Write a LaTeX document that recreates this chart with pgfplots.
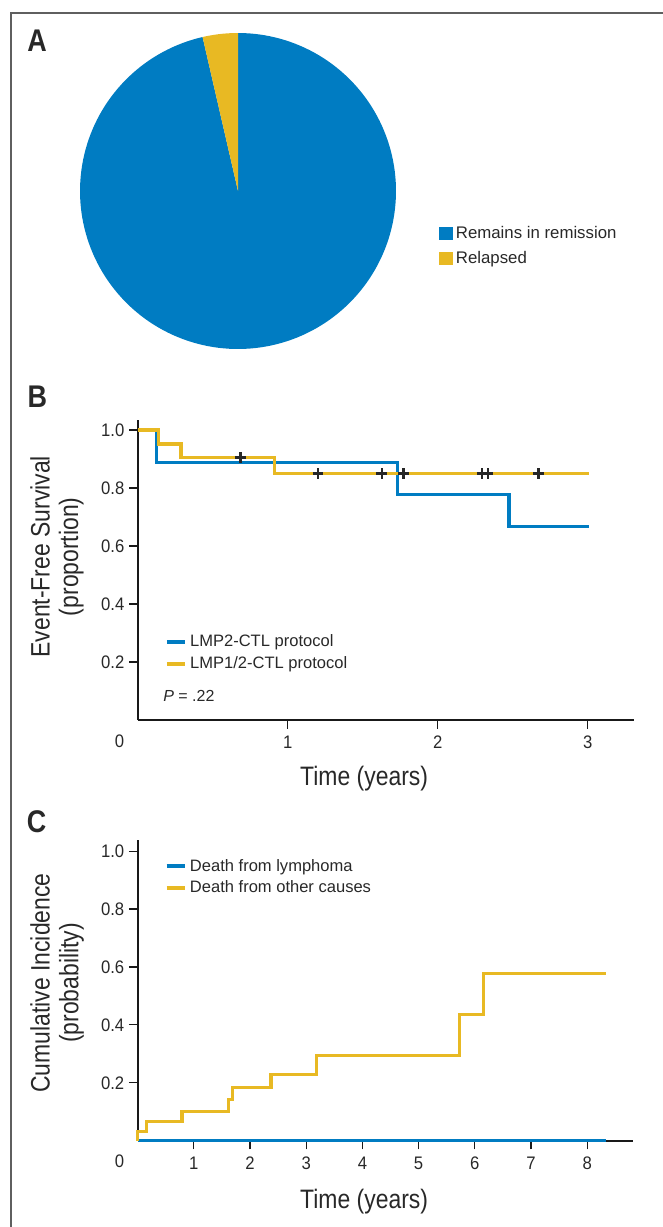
\documentclass[border=0pt]{standalone}
\usepackage{fontspec}
\setmainfont{Liberation Sans}
\newfontfamily\condfont[FakeStretch=0.86]{Liberation Sans}
\newfontfamily\tickfam[FakeStretch=0.92]{Liberation Sans}
\usepackage{pgfplots}
\pgfplotsset{compat=1.18}
\definecolor{ablue}{RGB}{0,124,194}
\definecolor{ayellow}{RGB}{232,185,35}
\definecolor{framegray}{RGB}{95,95,95}
\definecolor{txt}{RGB}{40,40,40}

\pgfplotsset{
  kmstyle/.style={
    scale only axis,
    axis x line=bottom, axis y line=left,
    axis line style={-, line width=1.4pt, black!90},
    tick align=outside,
    major tick length=6.5pt,
    tick style={line width=0.9pt, black!90},
    ticklabel style={font=\tickfam\fontsize{13.6}{15}\selectfont, text=txt},
    xticklabel style={yshift=-2pt},
    /pgf/number format/assume math mode=true,
    clip=false,
    ymin=0,
    ytick={0.2,0.4,0.6,0.8,1.0},
    yticklabel style={/pgf/number format/.cd, fixed, fixed zerofill, precision=1},
    label style={font=\condfont\fontsize{20}{21.5}\selectfont, text=txt},
    legend cell align=left,
    legend image code/.code={\draw[##1, line width=3pt] (0pt,0pt) -- (13.5pt,0pt);},
  }
}

\begin{document}
\begin{tikzpicture}
\useasboundingbox (0,0) rectangle (497.25pt,-920.25pt);
\draw[framegray, line width=1.5pt] (7.95pt,-921pt) -- (7.95pt,-9.98pt) -- (498pt,-9.98pt);

% panel letters
\node[font=\condfont\bfseries\fontsize{23.5}{24}\selectfont, text=txt] at (27.75pt,-30.75pt) {A};
\node[font=\condfont\bfseries\fontsize{23.5}{24}\selectfont, text=txt] at (28.1pt,-297.5pt) {B};
\node[font=\condfont\bfseries\fontsize{23.5}{24}\selectfont, text=txt] at (27.5pt,-616.3pt) {C};

% ---------------- Panel A: pie ----------------
\pgfmathsetmacro{\pctRelapsed}{3.6}
\pgfmathsetmacro{\pieSplit}{90+\pctRelapsed*3.6}
\begin{axis}[
  at={(178.5pt,-143.25pt)}, anchor=center,
  scale only axis, width=237pt, height=237pt,
  hide axis, xmin=-1, xmax=1, ymin=-1, ymax=1, clip=false,
  legend style={draw=none, fill=none, at={(1.136,0.40)}, anchor=north west,
    inner sep=0pt, row sep=3.5pt, font=\fontsize{12.6}{14}\selectfont, text=txt,
    nodes={inner sep=2.5pt}},
  legend cell align=left,
  legend image code/.code={\fill[#1] (0pt,-5pt) rectangle (10pt,5pt);},
]
\addplot[fill=ablue, draw=none, domain=\pieSplit:450, samples=181, variable=\t]
  ({cos(\t)},{sin(\t)}) -- (axis cs:0,0) -- cycle;
\addlegendentry{Remains in remission}
\addplot[fill=ayellow, draw=none, domain=90:\pieSplit, samples=12, variable=\t]
  ({cos(\t)},{sin(\t)}) -- (axis cs:0,0) -- cycle;
\addlegendentry{Relapsed}
\end{axis}

% ---------------- Panel B: KM ----------------
\begin{axis}[kmstyle,
  at={(103.28pt,-540pt)}, anchor=south west,
  width=372.4pt, height=225.1pt,
  xmin=0, xmax=3.31, ymax=1.035,
  xtick={1,2,3},
  xlabel={Time (years)},
  xlabel style={at={(axis description cs:0.456,-0.2166)}, anchor=base},
  ylabel={Event-Free Survival\\(proportion)},
  ylabel style={at={(axis description cs:-0.1625,0.544)}, anchor=center, align=center},
  legend style={draw=none, fill=none, at={(0.054,0.296)}, anchor=north west,
    inner sep=0pt, row sep=1pt, font=\fontsize{12.4}{14}\selectfont, text=txt,
    nodes={inner sep=2.5pt}},
]
\addplot[const plot, ablue, line width=2.4pt] coordinates {
  (0,1.0) (0.127,0.889) (1.73,0.778) (2.475,0.667) (3.01,0.667)};
\addlegendentry{LMP2-CTL protocol}
\addplot[const plot, ayellow, line width=2.4pt] coordinates {
  (0,1.0) (0.139,0.952) (0.288,0.905) (0.913,0.850) (3.01,0.850)};
\addlegendentry{LMP1/2-CTL protocol}
\addplot[forget plot, only marks, mark=+, mark size=4pt,
  mark options={line width=1.8pt, draw=black!85}] coordinates {
  (0.685,0.905) (1.202,0.850) (1.627,0.850) (1.773,0.850) (2.297,0.850) (2.336,0.850) (2.671,0.850)};
\node[anchor=west, font=\fontsize{12}{14}\selectfont, text=txt, inner sep=0pt] at (axis cs:0.169,0.084) {\textit{P} = .22};
\node[font=\tickfam\fontsize{13.6}{15}\selectfont, text=txt] at (axis cs:-0.121,-0.072) {0};
\end{axis}

% ---------------- Panel C: cumulative incidence ----------------
\begin{axis}[kmstyle,
  at={(103.2pt,-855.5pt)}, anchor=south west,
  width=371.8pt, height=225.2pt,
  xmin=0, xmax=8.82, ymax=1.037,
  xtick={1,2,3,4,5,6,7,8},
  xlabel={Time (years)},
  xlabel style={at={(axis description cs:0.457,-0.225)}, anchor=base},
  ylabel={Cumulative Incidence\\(probability)},
  ylabel style={at={(axis description cs:-0.1625,0.525)}, anchor=center, align=center},
  legend style={draw=none, fill=none, at={(0.054,0.95)}, anchor=north west,
    inner sep=0pt, row sep=1pt, font=\fontsize{12.4}{14}\selectfont, text=txt,
    nodes={inner sep=2.5pt}},
]
\addplot[ablue, line width=2.4pt] coordinates {(0,0) (8.34,0)};
\addlegendentry{Death from lymphoma}
\addplot[const plot, ayellow, line width=2.4pt] coordinates {
  (0,0) (0,0.033) (0.158,0.066) (0.79,0.102) (1.62,0.141) (1.69,0.183)
  (2.375,0.228) (3.18,0.293) (5.73,0.436) (6.16,0.576) (8.34,0.576)};
\addlegendentry{Death from other causes}
\node[font=\tickfam\fontsize{13.6}{15}\selectfont, text=txt] at (axis cs:-0.322,-0.072) {0};
\end{axis}
\end{tikzpicture}
\end{document}
